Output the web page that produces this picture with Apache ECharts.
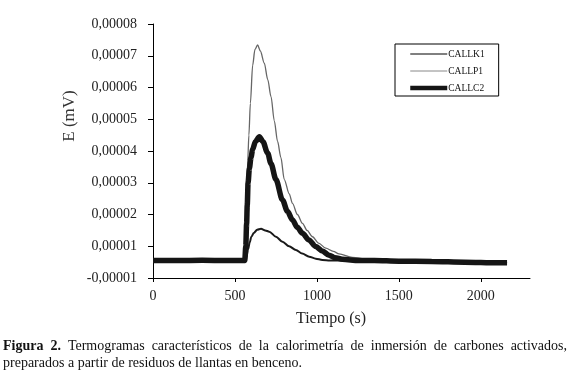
<!DOCTYPE html>
<html>
<head>
<meta charset="utf-8">
<script src="https://cdn.jsdelivr.net/npm/echarts@6/dist/echarts.min.js"></script>
<style>
html,body{margin:0;padding:0;background:#fff;}
#c{width:570px;height:377px;}
</style>
</head>
<body>
<div id="c"></div>
<script>
var seriesNames = ['CALLK1', 'CALLP1', 'CALLC2'];
var xTickValues = [0, 500, 1000, 1500, 2000];
var yTickLabels = ['-0,00001', '0,00001', '0,00002', '0,00003', '0,00004', '0,00005', '0,00006', '0,00007', '0,00008'];
var xTitle = 'Tiempo (s)';
var yTitle = 'E (mV)';
var captionBold = 'Figura 2.';
var captionLine1 = 'Termogramas característicos de la calorimetría de inmersión de carbones activados,';
var captionLine2 = 'preparados a partir de residuos de llantas en benceno.';

var callk1Time = [0, 150, 300, 450, 560, 570, 580, 590, 600, 615, 635, 659, 685, 709, 750, 790, 830, 872, 910, 953, 993, 1033, 1080, 1200, 1400, 1600, 1800, 2000, 2160];
var callk1E    = [0.55, 0.55, 0.56, 0.55, 0.55, 0.65, 0.9, 1.12, 1.3, 1.42, 1.52, 1.55, 1.5, 1.46, 1.3, 1.14, 1.0, 0.88, 0.77, 0.67, 0.61, 0.57, 0.55, 0.55, 0.53, 0.52, 0.5, 0.49, 0.48];

var callp1Time = [0, 150, 300, 450, 560, 566, 572, 578, 585, 594, 608, 622, 638, 655, 679, 700, 720, 740, 760, 780, 801, 831, 851, 881, 912, 940, 973, 1010, 1054, 1100, 1135, 1216, 1317, 1400, 1600, 1800, 2000, 2160];
var callp1E    = [0.55, 0.56, 0.55, 0.55, 0.55, 1.3, 2.6, 3.7, 4.5, 5.5, 6.7, 7.2, 7.34, 7.15, 6.77, 6.25, 5.71, 4.95, 4.3, 3.8, 3.1, 2.65, 2.35, 2.0, 1.72, 1.5, 1.3, 1.1, 0.94, 0.84, 0.76, 0.65, 0.59, 0.56, 0.53, 0.52, 0.5, 0.48];

var callc2Time = [0, 150, 300, 450, 560, 566, 571, 575, 580, 588, 598, 608, 625, 649, 670, 699, 720, 750, 790, 820, 851, 880, 912, 950, 993, 1033, 1074, 1110, 1155, 1256, 1350, 1500, 1700, 1900, 2100, 2160];
var callc2E    = [0.55, 0.55, 0.56, 0.55, 0.55, 1.0, 1.7, 2.3, 3.0, 3.45, 3.8, 4.05, 4.3, 4.45, 4.3, 3.94, 3.6, 3.1, 2.46, 2.1, 1.83, 1.6, 1.41, 1.2, 0.99, 0.85, 0.72, 0.64, 0.59, 0.55, 0.55, 0.53, 0.52, 0.5, 0.48, 0.48];

function pairs(t, v) { return t.map(function (x, i) { return [x, v[i]]; }); }

var serif = '"Liberation Serif", "DejaVu Serif", serif';
var capSize = 14;

// justified first caption line: measure words, spread to the full width
var measureCtx = document.createElement('canvas').getContext('2d');
function wordWidth(w, bold) {
  measureCtx.font = (bold ? 'bold ' : '') + capSize + 'px ' + serif;
  return measureCtx.measureText(w).width;
}
var capWords = [];
captionBold.split(' ').forEach(function (w) { capWords.push({t: w, b: true}); });
captionLine1.split(' ').forEach(function (w) { capWords.push({t: w, b: false}); });
var capLeft = 3, capRight = 567;
var totalW = 0;
capWords.forEach(function (w) { w.w = wordWidth(w.t, w.b); totalW += w.w; });
var gap = (capRight - capLeft - totalW) / (capWords.length - 1);
var graphics = [
  {type: 'text', x: 70, y: 116, rotation: Math.PI / 2,
   style: {text: yTitle, fontFamily: serif, fontSize: 17, fill: '#333', align: 'center', verticalAlign: 'middle'}},
  {type: 'text', x: 331, y: 319,
   style: {text: xTitle, fontFamily: serif, fontSize: 16, fill: '#222', align: 'center', verticalAlign: 'middle'}},
  {type: 'text', x: capLeft, y: 363,
   style: {text: captionLine2, fontFamily: serif, fontSize: capSize, fill: '#111', align: 'left', verticalAlign: 'middle'}}
];
var cx = capLeft;
capWords.forEach(function (w) {
  graphics.push({type: 'text', x: cx, y: 346,
    style: {text: w.t, fontFamily: serif, fontSize: capSize, fontWeight: w.b ? 'bold' : 'normal',
            fill: '#111', align: 'left', verticalAlign: 'middle'}});
  cx += w.w + gap;
});

var chart = echarts.init(document.getElementById('c'), null, {renderer: 'canvas'});

chart.setOption({
  backgroundColor: '#fff',
  animation: false,
  textStyle: {fontFamily: serif},
  grid: {left: 153, right: 40, top: 24, bottom: 99, containLabel: false},
  legend: {
    orient: 'vertical',
    left: 395, top: 44,
    padding: [5, 14, 3, 13],
    itemWidth: 37, itemHeight: 10, itemGap: 7,
    borderColor: '#000', borderWidth: 1,
    itemStyle: {opacity: 0},
    textStyle: {fontFamily: serif, fontSize: 9.5, color: '#111', padding: [0, 0, 0, -4]},
    data: [
      {name: seriesNames[0], lineStyle: {width: 1, color: '#000'}},
      {name: seriesNames[1], lineStyle: {width: 1, color: '#888'}},
      {name: seriesNames[2], lineStyle: {width: 4.5, color: '#151515'}}
    ]
  },
  xAxis: {
    type: 'value', min: 0, max: 2300, interval: 500,
    axisLine: {lineStyle: {color: '#000', width: 1}},
    axisTick: {show: true, inside: false, length: 4, lineStyle: {color: '#000'}, customValues: xTickValues},
    axisLabel: {customValues: xTickValues, fontFamily: serif, fontSize: 14, color: '#222', margin: 11,
      formatter: function (v) { return String(v); }},
    splitLine: {show: false}
  },
  yAxis: {
    type: 'value', min: 0, max: 8, interval: 1,
    axisLine: {show: true, lineStyle: {color: '#000', width: 1}},
    axisTick: {show: true, inside: false, length: 5, lineStyle: {color: '#000'}},
    axisLabel: {
      fontFamily: serif, fontSize: 14, color: '#222', margin: 16,
      formatter: function (v) { return yTickLabels[Math.round(v)]; }
    },
    splitLine: {show: false}
  },
  graphic: graphics,
  series: [
    {name: seriesNames[0], type: 'line', showSymbol: false, symbol: 'none', smooth: 0.3, smoothMonotone: 'x',
     lineStyle: {color: '#1a1a1a', width: 2}, itemStyle: {color: '#1a1a1a'}, z: 3,
     data: pairs(callk1Time, callk1E)},
    {name: seriesNames[1], type: 'line', showSymbol: false, symbol: 'none', smooth: 0.3, smoothMonotone: 'x',
     lineStyle: {color: '#666', width: 1.3}, itemStyle: {color: '#666'}, z: 2,
     data: pairs(callp1Time, callp1E)},
    {name: seriesNames[2], type: 'line', showSymbol: false, symbol: 'none', smooth: 0.3, smoothMonotone: 'x',
     lineStyle: {color: '#151515', width: 5.5}, itemStyle: {color: '#151515'}, z: 4,
     data: pairs(callc2Time, callc2E)}
  ]
});
</script>
</body>
</html>
